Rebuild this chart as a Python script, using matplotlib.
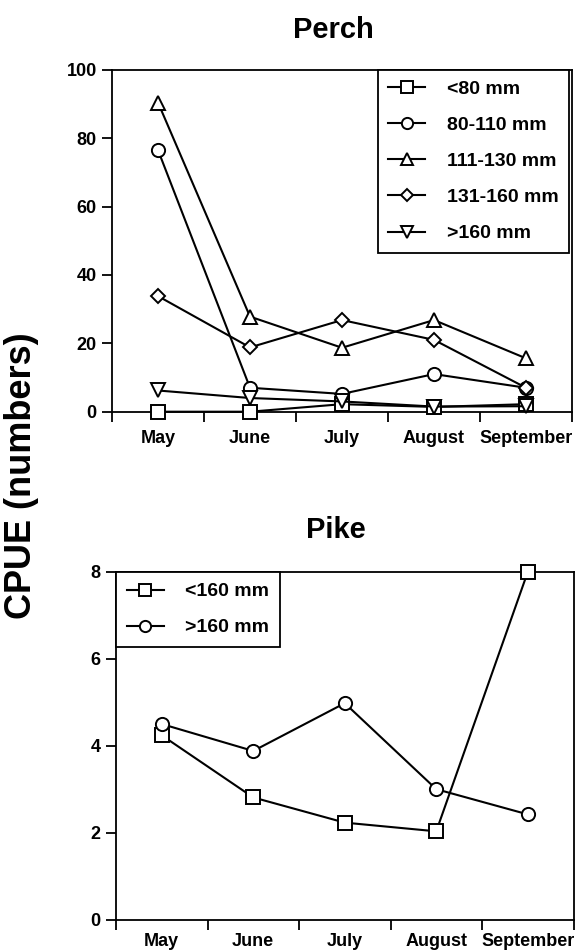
import matplotlib
matplotlib.use("Agg")
import matplotlib.pyplot as plt
from matplotlib.ticker import FixedLocator, NullFormatter

plt.rcParams["font.family"] = ["Liberation Sans", "DejaVu Sans"]
plt.rcParams["font.weight"] = "bold"

months = ["May", "June", "July", "August", "September"]

# Perch catch per unit effort, by length class
perch_labels = ["<80 mm", "80-110 mm", "111-130 mm", "131-160 mm", ">160 mm"]
perch_markers = ["s", "o", "^", "D", "v"]
perch_lt80 = [0, 0, 2.2, 1.4, 2.2]
perch_80_110 = [76.5, 7, 5.2, 11, 7]
perch_111_130 = [90.4, 27.8, 18.7, 26.8, 15.6]
perch_131_160 = [33.8, 18.8, 26.8, 21, 7]
perch_gt160 = [6.2, 4, 3, 1.5, 1.6]

# Pike catch per unit effort
pike_labels = ["<160 mm", ">160 mm"]
pike_markers = ["s", "o"]
pike_lt160 = [4.24, 2.81, 2.23, 2.03, 8.0]
pike_gt160 = [4.5, 3.88, 4.98, 3.0, 2.42]

W, H = 584, 951
fig = plt.figure(figsize=(W / 100, H / 100), dpi=100)


def px_axes(left, top, right, bottom):
    return fig.add_axes([left / W, 1 - bottom / H, (right - left) / W, (bottom - top) / H])


def style_axes(ax, ymax, ystep, xpad):
    n = len(months)
    ax.set_xlim(0, n)
    ax.set_ylim(0, ymax)
    ax.xaxis.set_major_locator(FixedLocator(range(n + 1)))
    ax.xaxis.set_major_formatter(NullFormatter())
    ax.xaxis.set_minor_locator(FixedLocator([i + 0.5 for i in range(n)]))
    ax.set_xticklabels(months, minor=True)
    ax.tick_params(axis="x", which="major", direction="out", length=7, width=1.3)
    ax.tick_params(axis="x", which="minor", length=0, pad=xpad, labelsize=13)
    ax.set_yticks(range(0, ymax + 1, ystep))
    ax.tick_params(axis="y", direction="out", length=7, width=1.3, pad=4, labelsize=13)
    for lab in ax.get_xticklabels(minor=True) + ax.get_yticklabels():
        lab.set_fontweight("bold")
    for s in ax.spines.values():
        s.set_linewidth(1.3)


def draw_series(ax, series, labels, markers):
    x = [i + 0.5 for i in range(len(months))]
    for vals, lab, mk in zip(series, labels, markers):
        ms = 7.5 if mk == "D" else 9.5
        ax.plot(x, vals, color="black", lw=1.5, marker=mk, ms=ms,
                mfc="white", mec="black", mew=1.4, label=lab, clip_on=False, zorder=3)


def add_legend(ax, loc, anchor):
    leg = ax.legend(loc=loc, bbox_to_anchor=anchor, borderaxespad=0,
                    fancybox=False, edgecolor="black", framealpha=1,
                    prop={"size": 14, "weight": "bold"}, handlelength=1.9,
                    handletextpad=1.1, labelspacing=0.95, borderpad=0.55,
                    markerscale=0.85)
    leg.get_frame().set_linewidth(1.3)
    return leg


# Perch panel
ax1 = px_axes(112, 69.7, 572, 411.7)
draw_series(ax1, [perch_lt80, perch_80_110, perch_111_130, perch_131_160, perch_gt160],
            perch_labels, perch_markers)
style_axes(ax1, 100, 20, 13)
add_legend(ax1, "upper right", (0.994, 1.0))
fig.text(333 / W, 1 - 30 / H, "Perch", ha="center", va="center",
         fontsize=21, fontweight="bold")

# Pike panel
ax2 = px_axes(116, 572, 573.5, 919.5)
draw_series(ax2, [pike_lt160, pike_gt160], pike_labels, pike_markers)
style_axes(ax2, 8, 2, 10)
add_legend(ax2, "upper left", (0.0, 1.0))
fig.text(336 / W, 1 - 530 / H, "Pike", ha="center", va="center",
         fontsize=21, fontweight="bold")

fig.text(22 / W, 1 - 476 / H, "CPUE (numbers)", rotation=90, ha="center",
         va="center", fontsize=26, fontweight="bold")

fig.savefig("out.png", dpi=100)
